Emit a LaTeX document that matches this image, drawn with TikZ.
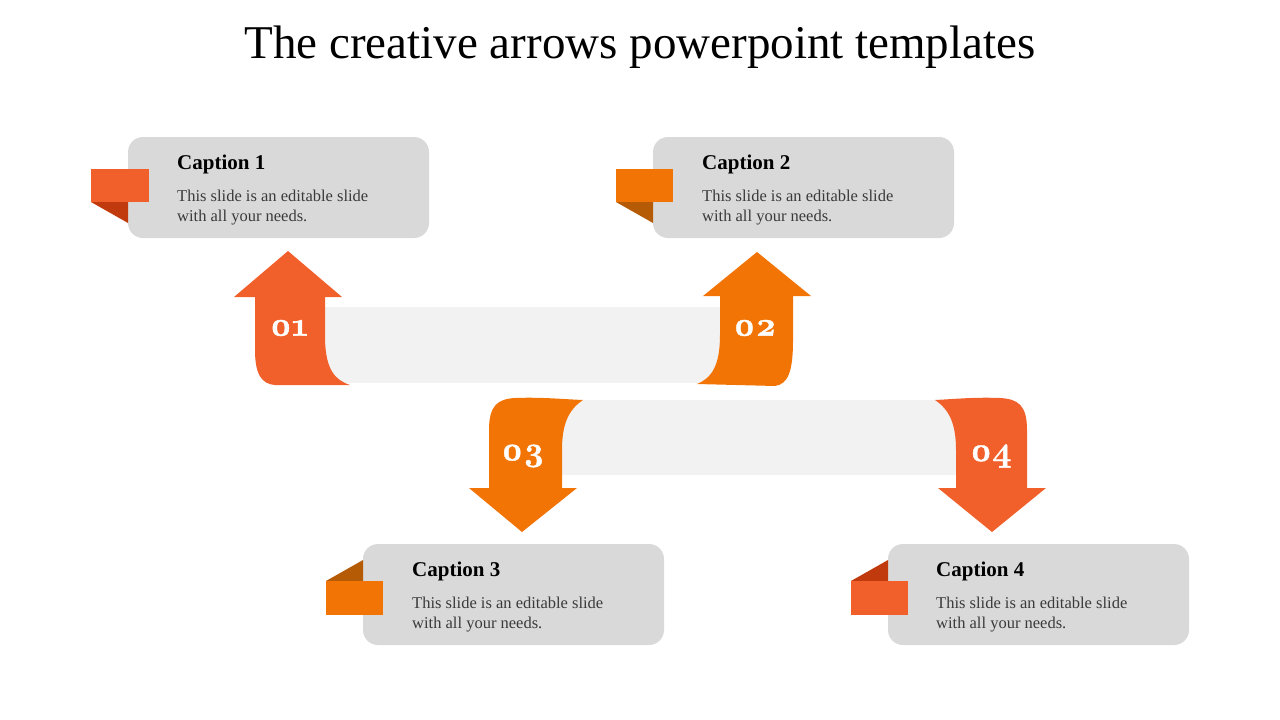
\documentclass[tikz,border=0pt]{standalone}
\usepackage{fontspec}
\setmainfont{Liberation Serif}
\newfontfamily\numfont[Numbers=OldStyle,BoldFeatures={FakeBold=1.2}]{Latin Modern Roman}
\definecolor{boxgray}{HTML}{D9D9D9}
\definecolor{bandgray}{HTML}{F2F2F2}
\definecolor{redor}{HTML}{F15F2A}
\definecolor{orng}{HTML}{F27405}
\definecolor{darkred}{HTML}{C13A0D}
\definecolor{darkor}{HTML}{B55A05}
\definecolor{bodytext}{HTML}{3A3A3A}
\tikzset{
  capbox/.style={fill=boxgray, rounded corners=15pt},
  captitle/.style={anchor=base west, inner sep=0pt, font=\fontsize{21}{24}\selectfont\bfseries, text=black},
  capbody/.style={anchor=base west, inner sep=0pt, font=\fontsize{16.5}{20}\selectfont, text=bodytext, align=left},
  numlabel/.style={font=\fontsize{34}{36}\selectfont\numfont\bfseries, text=white, inner sep=0pt}
}
\begin{document}
\begin{tikzpicture}[x=1pt,y=-1pt]
\useasboundingbox (0,0) rectangle (1280,720);
% title
\node[anchor=base, inner sep=0pt, font=\fontsize{47}{52}\selectfont] (title) at (640,58) {The creative arrows powerpoint templates};

% bands
\fill[bandgray] (320,307) rectangle (725,383);
\fill[bandgray] (555,400) rectangle (960,475);

% arrow 01
\fill[redor] (288,251) -- (342,297) -- (325,297) -- (325,340) .. controls (326,370) and (335,380) .. (350,385) -- (275,385) .. controls (262,384) and (255,375) .. (255,350) -- (255,297) -- (234,297) -- cycle;
% arrow 02
\fill[orng] (757,252) -- (811,296) -- (793,296) -- (793,340) .. controls (793,372) and (788,384) .. (775,386) -- (697,384) .. controls (712,378) and (720,365) .. (720,335) -- (720,296) -- (703,296) -- cycle;
% arrow 03
\fill[orng] (522,532) -- (469,488) -- (489,488) -- (489,430) .. controls (489,405) and (498,399) .. (515,398) .. controls (540,397) and (560,399) .. (583,400) .. controls (568,410) and (562,425) .. (562,450) -- (562,488) -- (577,488) -- cycle;
% arrow 04
\fill[redor] (992,532) -- (1046,488) -- (1027,488) -- (1027,430) .. controls (1027,405) and (1018,399) .. (1000,398) .. controls (975,397) and (955,399) .. (935,400) .. controls (950,410) and (956,425) .. (956,450) -- (956,488) -- (938,488) -- cycle;

\node[numlabel] (n1) at (289,328) {01};
\node[numlabel] (n2) at (755,328) {02};
\node[numlabel] (n3) at (523,456) {03};
\node[numlabel] (n4) at (991,456) {04};

% caption boxes
\fill[capbox] (128,137) rectangle (429,238);
\fill[capbox] (653,137) rectangle (954,238);
\fill[capbox] (363,544) rectangle (664,645);
\fill[capbox] (888,544) rectangle (1189,645);

% tabs
\fill[darkred] (91,202) -- (128,202) -- (128,223) -- cycle;
\fill[redor] (91,169) rectangle (149,202);
\fill[darkor] (616,202) -- (653,202) -- (653,223) -- cycle;
\fill[orng] (616,169) rectangle (673,202);
\fill[darkor] (326,581) -- (363,560) -- (363,581) -- cycle;
\fill[orng] (326,581) rectangle (383,615);
\fill[darkred] (851,581) -- (888,560) -- (888,581) -- cycle;
\fill[redor] (851,581) rectangle (908,615);

% captions
\node[captitle] (c1) at (177,169) {Caption 1};
\node[capbody] (b1) at (177,221) {This slide is an editable slide\\with all your needs.};
\node[captitle] (c2) at (702,169) {Caption 2};
\node[capbody] (b2) at (702,221) {This slide is an editable slide\\with all your needs.};
\node[captitle] (c3) at (412,576) {Caption 3};
\node[capbody] (b3) at (412,628) {This slide is an editable slide\\with all your needs.};
\node[captitle] (c4) at (936,576) {Caption 4};
\node[capbody] (b4) at (936,628) {This slide is an editable slide\\with all your needs.};
\end{tikzpicture}
\end{document}
